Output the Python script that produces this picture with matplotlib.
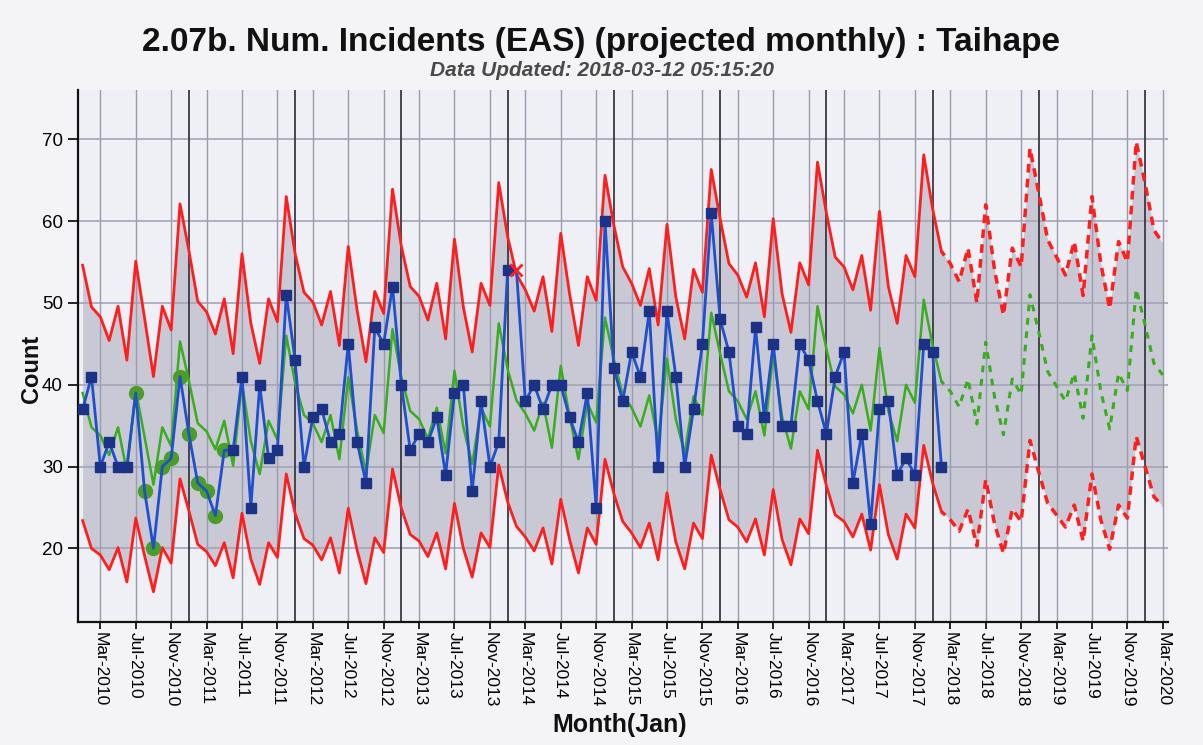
import matplotlib
matplotlib.use('Agg')
import matplotlib.pyplot as plt
import numpy as np
import pandas as pd

# Monthly counts, Jan 2010 - Feb 2018
actual = [37, 41, 30, 33, 30, 30, 39, 27, 20, 30, 31, 41,
          34, 28, 27, 24, 32, 32, 41, 25, 40, 31, 32, 51,
          43, 30, 36, 37, 33, 34, 45, 33, 28, 47, 45, 52,
          40, 32, 34, 33, 36, 29, 39, 40, 27, 38, 30, 33,
          54, 54, 38, 40, 37, 40, 40, 36, 33, 39, 25, 60,
          42, 38, 44, 41, 49, 30, 49, 41, 30, 37, 45, 61,
          48, 44, 35, 34, 47, 36, 45, 35, 35, 45, 43, 38,
          34, 41, 44, 28, 34, 23, 37, 38, 29, 31, 29, 45,
          44, 30]

# expected (green) and limits (red), Jan 2010 - Mar 2020
expected = [39.0, 34.8, 33.8, 31.4, 34.8, 29.4, 39.4, 33.6, 27.8, 34.8, 32.5, 45.3,
            40.5, 35.3, 34.3, 32.1, 35.6, 30.1, 40.2, 33.1, 29.1, 35.6, 33.3, 46.0,
            40.2, 36.3, 35.3, 33.0, 36.3, 30.9, 40.9, 34.4, 29.3, 36.3, 34.1, 46.8,
            40.9, 36.8, 35.8, 33.4, 37.2, 31.6, 41.7, 34.8, 30.3, 37.2, 34.9, 47.5,
            41.9, 38.1, 36.5, 34.4, 37.8, 32.3, 42.3, 36.1, 30.9, 37.8, 35.4, 48.2,
            43.1, 38.8, 37.2, 34.9, 38.7, 33.0, 43.2, 35.8, 31.6, 38.6, 36.3, 48.8,
            43.8, 39.2, 38.0, 35.8, 39.2, 33.8, 43.8, 36.1, 32.2, 39.2, 37.0, 49.6,
            44.4, 39.8, 38.8, 36.5, 40.0, 34.4, 44.5, 36.8, 33.1, 40.0, 37.8, 50.4,
            44.8, 40.4, 39.2, 37.3, 40.7, 35.2, 45.2, 38.5, 33.9, 40.7, 38.8, 51.0,
            46.4, 41.6, 39.8, 38.0, 41.4, 35.9, 46.0, 39.2, 34.6, 41.4, 39.3, 51.7,
            47.3, 42.6, 41.2]

upper = [54.6, 49.5, 48.3, 45.4, 49.6, 43.0, 55.1, 48.1, 41.0, 49.6, 46.7, 62.1,
         56.4, 50.2, 48.9, 46.2, 50.5, 43.8, 56.0, 47.5, 42.6, 50.5, 47.7, 63.0,
         56.0, 51.3, 50.1, 47.3, 51.4, 44.8, 56.9, 49.1, 42.8, 51.4, 48.7, 63.9,
         56.9, 52.0, 50.8, 47.9, 52.4, 45.6, 57.8, 49.5, 44.0, 52.4, 49.7, 64.7,
         58.1, 53.5, 51.6, 49.0, 53.2, 46.5, 58.5, 51.1, 44.8, 53.2, 50.3, 65.6,
         59.5, 54.4, 52.4, 49.7, 54.2, 47.3, 59.6, 50.7, 45.6, 54.1, 51.3, 66.3,
         60.3, 54.8, 53.4, 50.7, 54.9, 48.3, 60.3, 51.1, 46.4, 54.9, 52.2, 67.2,
         61.0, 55.6, 54.4, 51.6, 55.8, 49.1, 61.2, 52.0, 47.5, 55.8, 53.2, 68.1,
         61.5, 56.3, 54.8, 52.6, 56.7, 50.0, 62.0, 54.0, 48.5, 56.7, 54.4, 68.9,
         63.4, 57.7, 55.6, 53.4, 57.5, 50.9, 63.0, 54.8, 49.3, 57.5, 55.0, 69.7,
         64.6, 58.9, 57.3]

lower = [23.4, 20.0, 19.2, 17.4, 20.1, 15.9, 23.7, 19.1, 14.7, 20.1, 18.2, 28.5,
         24.6, 20.5, 19.6, 17.9, 20.7, 16.4, 24.3, 18.7, 15.6, 20.7, 18.9, 29.1,
         24.3, 21.2, 20.4, 18.6, 21.3, 17.0, 24.9, 19.8, 15.7, 21.3, 19.5, 29.7,
         24.9, 21.7, 20.9, 19.0, 21.9, 17.5, 25.5, 20.0, 16.5, 21.9, 20.1, 30.2,
         25.7, 22.7, 21.4, 19.7, 22.5, 18.1, 26.0, 21.1, 17.0, 22.5, 20.5, 30.9,
         26.7, 23.3, 21.9, 20.1, 23.1, 18.6, 26.8, 20.8, 17.5, 23.1, 21.2, 31.4,
         27.2, 23.5, 22.6, 20.8, 23.6, 19.2, 27.2, 21.1, 18.0, 23.6, 21.8, 32.0,
         27.7, 24.1, 23.3, 21.4, 24.2, 19.8, 27.8, 21.7, 18.7, 24.2, 22.5, 32.6,
         28.0, 24.5, 23.5, 22.1, 24.8, 20.3, 28.4, 23.0, 19.4, 24.8, 23.3, 33.2,
         29.3, 25.5, 24.1, 22.6, 25.3, 20.9, 29.1, 23.5, 19.9, 25.3, 23.7, 33.7,
         30.0, 26.3, 25.2]

# flagged points: run (green circles) and above upper limit (red x)
run_idx = [6, 7, 8, 9, 10, 11, 12, 13, 14, 15, 16]
high_idx = [49]

months = pd.date_range('2010-01-01', '2020-03-01', freq='MS')
tick_pos = list(range(2, len(months), 4))
tick_labels = [months[i].strftime('%b-%Y') for i in tick_pos]
year_pos = [i for i in range(1, len(months)) if months[i].month == 1]
last_actual = len(actual) - 1

RED = '#ff1e1e'
GREEN = '#3aad1e'
BLUE = '#1f4fcc'
NAVY = '#1b3287'
FILL = '#c8c9d5'
FONT = 'Liberation Sans'

fig = plt.figure(figsize=(12.03, 7.45), dpi=100, facecolor='#f4f4f6')
ax = fig.add_axes([0.065, 0.165, 0.906, 0.714], facecolor='#eff0f5')

x_all = np.arange(len(expected))
x_act = np.arange(len(actual))
h = slice(0, last_actual + 1)
p = slice(last_actual, len(expected))

ax.fill_between(x_all, lower, upper, color=FILL, zorder=1, linewidth=0)

# grid
for v in range(20, 71, 10):
    ax.axhline(v, color='#a3a4b8', linewidth=1.2, zorder=2)
for t in tick_pos:
    ax.axvline(t, color='#9a9bab', linewidth=1.0, zorder=2)
for t in year_pos:
    ax.axvline(t, color='#3a3a44', linewidth=1.3, zorder=2)

# limits and expected
ax.plot(x_all[h], np.array(upper)[h], color=RED, linewidth=2, zorder=3)
ax.plot(x_all[h], np.array(lower)[h], color=RED, linewidth=2, zorder=3)
ax.plot(x_all[h], np.array(expected)[h], color=GREEN, linewidth=1.8, zorder=3)
ax.plot(x_all[p], np.array(upper)[p], color=RED, linewidth=2.5, linestyle=(1, (2.5, 1.8)), zorder=3)
ax.plot(x_all[p], np.array(lower)[p], color=RED, linewidth=2.5, linestyle=(1, (2.5, 1.8)), zorder=3)
ax.plot(x_all[p], np.array(expected)[p], color=GREEN, linewidth=2.2, linestyle=(1, (2.2, 2.2)), zorder=3)

# actual counts
act = np.array(actual)
ax.plot(run_idx, act[run_idx], linestyle='none', marker='o',
        markersize=10, color='#4a9e28', zorder=4)
ax.plot(x_act, act, color=BLUE, linewidth=2, zorder=5)
normal = [i for i in x_act if i not in run_idx and i not in high_idx]
ax.plot(normal, act[normal], linestyle='none', marker='s', markersize=7,
        color=NAVY, zorder=6)
ax.plot(high_idx, act[high_idx], linestyle='none', marker='x', markersize=8,
        markeredgewidth=2, color=RED, zorder=6)

ax.set_xlim(-0.5, 122.6)
ax.set_ylim(11, 76)
ax.set_yticks(range(20, 71, 10))
ax.set_yticklabels([str(v) for v in range(20, 71, 10)], fontsize=13.5, family=FONT)
ax.set_xticks(tick_pos)
ax.set_xticklabels(tick_labels, rotation=-90, fontsize=12.5, family=FONT)
ax.tick_params(axis='x', length=5, width=1.2, pad=2)
ax.tick_params(axis='y', length=7, width=1.2, pad=4)

for s in ['top', 'right']:
    ax.spines[s].set_visible(False)
for s in ['left', 'bottom']:
    ax.spines[s].set_linewidth(1.6)
    ax.spines[s].set_color('#111111')

fig.text(0.5, 0.943, '2.07b. Num. Incidents (EAS) (projected monthly) : Taihape',
         ha='center', va='center', fontsize=24, fontweight='bold',
         family=FONT, color='#111111')
fig.text(0.5, 0.905, 'Data Updated: 2018-03-12 05:15:20', ha='center', va='center',
         fontsize=15, fontweight='bold', style='italic', family=FONT,
         color='#4a4a4a')
fig.text(0.026, 0.505, 'Count', rotation=90, ha='center', va='center', fontsize=17,
         fontweight='bold', family=FONT, color='#111111')
fig.text(0.515, 0.027, 'Month(Jan)', ha='center', va='center', fontsize=18,
         fontweight='bold', family=FONT, color='#111111')

fig.savefig('out.png', dpi=100, facecolor=fig.get_facecolor())
